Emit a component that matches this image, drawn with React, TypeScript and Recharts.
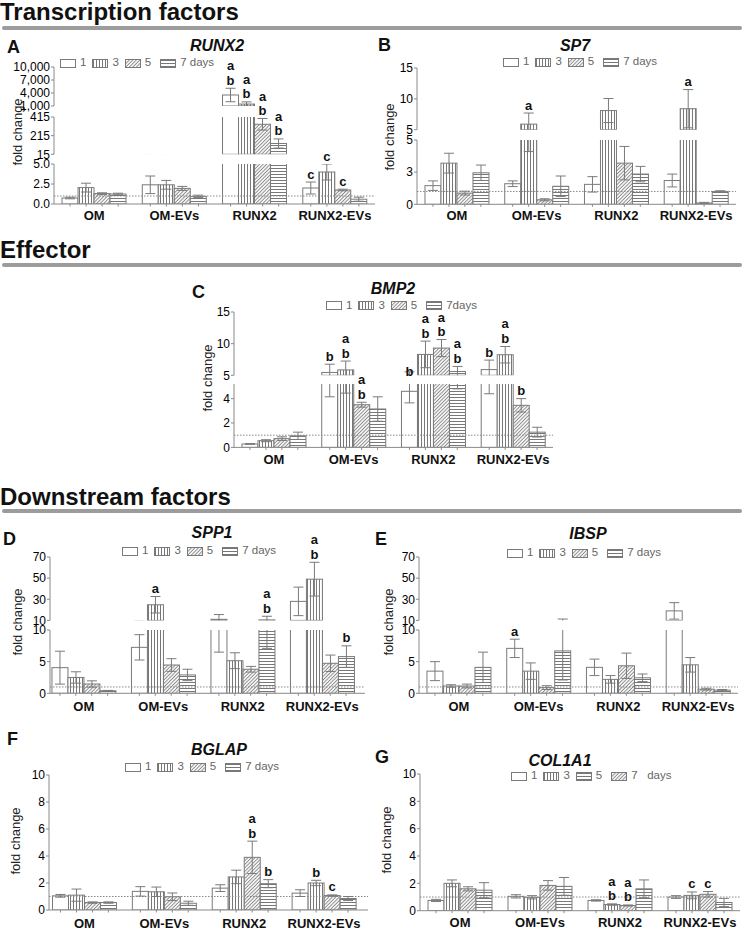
import React from 'react';
import { BarChart, Bar, XAxis, YAxis, ErrorBar, LabelList, ReferenceLine } from 'recharts';

const groups = ['OM', 'OM-EVs', 'RUNX2', 'RUNX2-EVs'];
const dayLabels = ['1', '3', '5', '7 days'];

// A  RUNX2
const runx2Day1 = [0.75, 2.4, 3540, 2.0];
const runx2Day3 = [2.05, 2.4, 1450, 4.0];
const runx2Day5 = [1.3, 1.95, 337, 1.75];
const runx2Day7 = [1.25, 0.95, 131, 0.6];
const runx2Err1 = [0.1, 1.1, 1550, 0.75];
const runx2Err3 = [0.55, 0.55, 500, 1.0];
const runx2Err5 = [0.1, 0.25, 62, 0.1];
const runx2Err7 = [0.1, 0.15, 49, 0.25];
const runx2Sig1 = ['', '', 'ab', 'c'];
const runx2Sig3 = ['', '', 'ab', 'c'];
const runx2Sig5 = ['', '', 'ab', 'c'];
const runx2Sig7 = ['', '', 'ab', ''];

// B  SP7
const sp7Day1 = [1.45, 1.6, 1.55, 1.85];
const sp7Day3 = [3.2, 5.9, 8.1, 8.4];
const sp7Day5 = [0.87, 0.35, 3.2, 0.1];
const sp7Day7 = [2.45, 1.4, 2.35, 1.0];
const sp7Err1 = [0.37, 0.22, 0.6, 0.5];
const sp7Err3 = [0.77, 1.8, 1.95, 3.1];
const sp7Err5 = [0.15, 0.08, 1.3, 0.05];
const sp7Err7 = [0.6, 0.8, 0.6, 0.05];
const sp7Sig1 = ['', '', '', ''];
const sp7Sig3 = ['', 'a', '', 'a'];
const sp7Sig5 = ['', '', '', ''];
const sp7Sig7 = ['', '', '', ''];

// C  BMP2
const bmp2Day1 = [0.28, 5.45, 4.6, 5.9];
const bmp2Day3 = [0.55, 5.85, 8.3, 8.25];
const bmp2Day5 = [0.72, 3.5, 9.3, 3.45];
const bmp2Day7 = [0.95, 3.15, 5.6, 1.25];
const bmp2Err1 = [0.03, 1.3, 0.95, 1.5];
const bmp2Err3 = [0.08, 1.4, 2.1, 1.3];
const bmp2Err5 = [0.15, 0.2, 1.35, 0.55];
const bmp2Err7 = [0.3, 1.0, 0.8, 0.4];
const bmp2Sig1 = ['', 'b', 'b', 'b'];
const bmp2Sig3 = ['', 'ab', 'ab', 'ab'];
const bmp2Sig5 = ['', 'ab', 'ab', 'b'];
const bmp2Sig7 = ['', '', 'ab', ''];

// D  SPP1
const spp1Day1 = [4.05, 7.26, 11, 28];
const spp1Day3 = [2.5, 24.8, 5.15, 49];
const spp1Day5 = [1.47, 4.47, 3.8, 4.74];
const spp1Day7 = [0.4, 2.9, 10.5, 5.8];
const spp1Err1 = [2.6, 2.0, 4.5, 13.5];
const spp1Err3 = [0.9, 7.8, 1.25, 16];
const spp1Err5 = [0.5, 1.0, 0.45, 1.3];
const spp1Err7 = [0.05, 0.9, 3.4, 1.7];
const spp1Sig1 = ['', '', '', ''];
const spp1Sig3 = ['', 'a', '', 'ab'];
const spp1Sig5 = ['', '', '', ''];
const spp1Sig7 = ['', '', 'ab', 'b'];

// E  IBSP
const ibspDay1 = [3.5, 7.1, 4.1, 19];
const ibspDay3 = [1.15, 3.5, 2.2, 4.5];
const ibspDay5 = [1.15, 0.9, 4.35, 0.65];
const ibspDay7 = [4.1, 6.7, 2.45, 0.5];
const ibspErr1 = [1.5, 1.45, 1.3, 7.8];
const ibspErr3 = [0.2, 1.3, 0.6, 1.15];
const ibspErr5 = [0.3, 0.3, 2.0, 0.15];
const ibspErr7 = [2.4, 4.6, 0.6, 0.1];
const ibspSig1 = ['', 'a', '', ''];
const ibspSig3 = ['', '', '', ''];
const ibspSig5 = ['', '', '', ''];
const ibspSig7 = ['', '', '', ''];

// F  BGLAP
const bglapDay1 = [1.05, 1.38, 1.62, 1.25];
const bglapDay3 = [1.1, 1.35, 2.45, 2.0];
const bglapDay5 = [0.55, 0.98, 3.9, 1.07];
const bglapDay7 = [0.55, 0.5, 1.95, 0.85];
const bglapErr1 = [0.1, 0.35, 0.25, 0.25];
const bglapErr3 = [0.45, 0.35, 0.5, 0.2];
const bglapErr5 = [0.05, 0.28, 1.2, 0.05];
const bglapErr7 = [0.05, 0.15, 0.3, 0.15];
const bglapSig1 = ['', '', '', ''];
const bglapSig3 = ['', '', '', 'b'];
const bglapSig5 = ['', '', 'ab', 'c'];
const bglapSig7 = ['', '', 'b', ''];

// G  COL1A1
const col1a1Day1 = [0.75, 1.05, 0.75, 1.0];
const col1a1Day3 = [2.0, 0.98, 0.45, 1.12];
const col1a1Day5 = [1.6, 1.85, 0.38, 1.2];
const col1a1Day7 = [1.5, 1.78, 1.6, 0.6];
const col1a1Err1 = [0.08, 0.12, 0.05, 0.1];
const col1a1Err3 = [0.25, 0.12, 0.05, 0.25];
const col1a1Err5 = [0.15, 0.35, 0.04, 0.2];
const col1a1Err7 = [0.55, 0.65, 0.65, 0.3];
const col1a1Sig1 = ['', '', '', ''];
const col1a1Sig3 = ['', '', 'ab', 'c'];
const col1a1Sig5 = ['', '', 'ab', 'c'];
const col1a1Sig7 = ['', '', '', ''];

const AXIS = '#8a8a8a';
const EDGE = '#7a7a7a';
const FONT = '"Liberation Sans", Arial, Helvetica, sans-serif';

const W = '#ffffff';
const PV = 'url(#pv)';
const PD = 'url(#pd)';
const PH = 'url(#ph)';

function buildRows(means: number[][], errs: number[][], sigs: string[][]) {
  return groups.map((g, i) => {
    const row: any = { group: g };
    means.forEach((m, k) => {
      row[`v${k}`] = m[i];
      row[`e${k}`] = errs[k][i];
      row[`s${k}`] = sigs[k][i];
    });
    return row;
  });
}

const comma = (v: number) => v.toLocaleString('en-US');
const oneDec = (v: number) => v.toFixed(1);
const rounded = (v: number) => String(Math.round(v));
const plain = (v: number) => String(v);

type Seg = { domain: [number, number]; ticks: number[]; fmt: (v: number) => string; y0: number; y1: number };

const panels: any[] = [
  {
    letter: 'A', letterPos: [7, 37.5], title: 'RUNX2', titlePos: [217, 38],
    legendPos: [60, 63], legendFills: [W, PV, PD, PH], legendLabels: dayLabels,
    ylab: [17, 132], chartLeft: 0, axisX: 54, plotRight: 375, pad: { left: 0, right: 0 }, labelDy: 15.5,
    fills: [W, PV, PD, PH],
    rows: buildRows([runx2Day1, runx2Day3, runx2Day5, runx2Day7], [runx2Err1, runx2Err3, runx2Err5, runx2Err7], [runx2Sig1, runx2Sig3, runx2Sig5, runx2Sig7]),
    segs: [
      { domain: [1000, 10000], ticks: [1000, 4000, 7000, 10000], fmt: comma, y0: 67, y1: 106 },
      { domain: [15, 415], ticks: [15, 215, 415], fmt: plain, y0: 116.7, y1: 154 },
      { domain: [0, 5], ticks: [0, 2.5, 5], fmt: oneDec, y0: 164.3, y1: 204.3 },
    ],
  },
  {
    letter: 'B', letterPos: [378, 36], title: 'SP7', titlePos: [575, 38],
    legendPos: [503, 62], legendFills: [W, PV, PD, PH], legendLabels: dayLabels,
    ylab: [388.5, 137], chartLeft: 370, axisX: 417, plotRight: 736, pad: { left: 0, right: 0 }, labelDy: 16,
    fills: [W, PV, PD, PH],
    rows: buildRows([sp7Day1, sp7Day3, sp7Day5, sp7Day7], [sp7Err1, sp7Err3, sp7Err5, sp7Err7], [sp7Sig1, sp7Sig3, sp7Sig5, sp7Sig7]),
    segs: [
      { domain: [5, 15], ticks: [5, 10, 15], fmt: plain, y0: 68.3, y1: 130 },
      { domain: [0, 5], ticks: [0, 2.5, 5], fmt: rounded, y0: 140, y1: 204.3 },
    ],
  },
  {
    letter: 'C', letterPos: [192, 282.5], title: 'BMP2', titlePos: [393, 281],
    legendPos: [326, 305.7], legendFills: [W, PV, PD, PH], legendLabels: ['1', '3', '5', '7days'],
    ylab: [207, 378], chartLeft: 180, axisX: 234, plotRight: 553, pad: { left: 0, right: 0 }, labelDy: 17,
    fills: [W, PV, PD, PH],
    rows: buildRows([bmp2Day1, bmp2Day3, bmp2Day5, bmp2Day7], [bmp2Err1, bmp2Err3, bmp2Err5, bmp2Err7], [bmp2Sig1, bmp2Sig3, bmp2Sig5, bmp2Sig7]),
    segs: [
      { domain: [5, 15], ticks: [5, 10, 15], fmt: plain, y0: 311.7, y1: 375 },
      { domain: [0, 5.2], ticks: [0, 2, 4], fmt: plain, y0: 384.3, y1: 447.7 },
    ],
  },
  {
    letter: 'D', letterPos: [3, 529.5], title: 'SPP1', titlePos: [212, 524.7],
    legendPos: [122, 551], legendFills: [W, PV, PD, PH], legendLabels: dayLabels,
    ylab: [17, 622], chartLeft: 0, axisX: 50, plotRight: 365, pad: { left: -6, right: 3 }, labelDy: 18,
    fills: [W, PV, PD, PH],
    rows: buildRows([spp1Day1, spp1Day3, spp1Day5, spp1Day7], [spp1Err1, spp1Err3, spp1Err5, spp1Err7], [spp1Sig1, spp1Sig3, spp1Sig5, spp1Sig7]),
    segs: [
      { domain: [10, 70], ticks: [10, 30, 50, 70], fmt: plain, y0: 557.3, y1: 620.7 },
      { domain: [0, 10], ticks: [0, 5, 10], fmt: plain, y0: 630, y1: 693.3 },
    ],
  },
  {
    letter: 'E', letterPos: [375, 529.5], title: 'IBSP', titlePos: [588, 525.7],
    legendPos: [507, 553], legendFills: [W, PV, PD, PH], legendLabels: dayLabels,
    ylab: [387.5, 622], chartLeft: 370, axisX: 419, plotRight: 738, pad: { left: 0, right: 0 }, labelDy: 18,
    fills: [W, PV, PD, PH],
    rows: buildRows([ibspDay1, ibspDay3, ibspDay5, ibspDay7], [ibspErr1, ibspErr3, ibspErr5, ibspErr7], [ibspSig1, ibspSig3, ibspSig5, ibspSig7]),
    segs: [
      { domain: [10, 70], ticks: [10, 30, 50, 70], fmt: plain, y0: 557.3, y1: 620.7 },
      { domain: [0, 10], ticks: [0, 5, 10], fmt: plain, y0: 630, y1: 693.3 },
    ],
  },
  {
    letter: 'F', letterPos: [7, 729.5], title: 'BGLAP', titlePos: [219, 742],
    legendPos: [125, 767], legendFills: [W, PV, PD, PH], legendLabels: dayLabels,
    ylab: [15, 841], chartLeft: 0, axisX: 49, plotRight: 368, pad: { left: -4.5, right: 4 }, labelDy: 17.5,
    fills: [W, PV, PD, PH],
    rows: buildRows([bglapDay1, bglapDay3, bglapDay5, bglapDay7], [bglapErr1, bglapErr3, bglapErr5, bglapErr7], [bglapSig1, bglapSig3, bglapSig5, bglapSig7]),
    segs: [
      { domain: [0, 10], ticks: [0, 2, 4, 6, 8, 10], fmt: plain, y0: 775, y1: 910 },
    ],
  },
  {
    letter: 'G', letterPos: [375, 747.5], title: 'COL1A1', titlePos: [560, 753],
    legendPos: [511, 776], legendFills: [W, PV, PH, PD], legendLabels: ['1', '3', '5', '7   days'],
    ylab: [386, 840], chartLeft: 370, axisX: 420, plotRight: 740, pad: { left: 0, right: 0 }, labelDy: 16.5,
    fills: [W, PV, PD, PH],
    rows: buildRows([col1a1Day1, col1a1Day3, col1a1Day5, col1a1Day7], [col1a1Err1, col1a1Err3, col1a1Err5, col1a1Err7], [col1a1Sig1, col1a1Sig3, col1a1Sig5, col1a1Sig7]),
    segs: [
      { domain: [0, 10], ticks: [0, 2, 4, 6, 8, 10], fmt: plain, y0: 774, y1: 910.7 },
    ],
  },
];

const segId = (cfg: any, si: number) => `seg${cfg.letter}${si}`;

const CatTick = (props: any) => {
  const { x, y, payload, labelDy, barW } = props;
  return (
    <g>
      {[-1.5, -0.5, 0.5, 1.5].map((o) => (
        <line key={o} x1={x + o * barW} x2={x + o * barW} y1={y} y2={y + 2.5} stroke={AXIS} strokeWidth={1} />
      ))}
      <text x={x} y={y + labelDy} textAnchor="middle" fontSize={13} fontWeight="bold" fill="#111" fontFamily={FONT}>
        {payload.value}
      </text>
    </g>
  );
};

const makeShape = (k: number, fill: string, isBottom: boolean, d0: number) => (p: any) => {
  const v = p.payload ? p.payload[`v${k}`] : undefined;
  if (!isBottom && !(v > d0)) return <g />;
  if (!(p.height > 0)) return <g />;
  return <rect x={p.x} y={p.y} width={p.width} height={p.height} fill={fill} stroke={EDGE} strokeWidth={1} />;
};

const makeLetters = (plotH: number, d0: number, d1: number, isBottom: boolean, isTop: boolean) => (props: any) => {
  const value = props.value;
  if (!value || typeof value !== 'string') return <g />;
  const [letters, errS, meanS] = value.split('|');
  const mean = Number(meanS);
  const err = Number(errS);
  if (!isBottom && !(mean > d0)) return <g />;
  if (!isTop && mean > d1) return <g />;
  const vb = props.viewBox && props.viewBox.width != null ? props.viewBox : props;
  const x = Number(vb.x);
  const y = Number(vb.y);
  const w = Number(vb.width);
  const top = y - (err * plotH) / (d1 - d0);
  const chars = letters.split('');
  return (
    <g>
      {chars.map((c, j) => (
        <text key={j} x={x + w / 2} y={top - 8 - (chars.length - 1 - j) * 14.5} textAnchor="middle" dominantBaseline="central"
          fontSize={13} fontWeight="bold" fill="#111" fontFamily={FONT}>
          {c}
        </text>
      ))}
    </g>
  );
};

function SegmentChart({ cfg, seg, si }: { cfg: any; seg: Seg; si: number }) {
  const isBottom = si === cfg.segs.length - 1;
  const isTop = si === 0;
  const plotH = seg.y1 - seg.y0;
  const xH = isBottom ? 34 : 0;
  const width = cfg.plotRight - cfg.chartLeft;
  const [d0, d1] = seg.domain;
  const barW = ((cfg.plotRight - cfg.axisX - cfg.pad.left - cfg.pad.right) / 4) * 0.8 / 4;
  return (
    <div className={segId(cfg, si)} style={{ position: 'absolute', left: cfg.chartLeft, top: seg.y0 }}>
      <BarChart width={width} height={plotH + xH} data={cfg.rows} margin={{ top: 0, right: 0, bottom: 0, left: 0 }}
        barCategoryGap="10%" barGap={0}>
        <XAxis dataKey="group" hide={!isBottom} height={xH} padding={cfg.pad} axisLine={{ stroke: AXIS }}
          tickLine={false} tickSize={0} tickMargin={0} interval={0}
          tick={(p: any) => <CatTick {...p} labelDy={cfg.labelDy} barW={barW} />} />
        <YAxis type="number" domain={seg.domain} ticks={seg.ticks} allowDataOverflow interval={0}
          width={cfg.axisX - cfg.chartLeft} tickFormatter={seg.fmt} tickSize={3} tickMargin={1}
          axisLine={{ stroke: AXIS }} tickLine={{ stroke: AXIS }}
          tick={{ fill: '#000', fontSize: 12, fontFamily: FONT }} />
        {d0 <= 1 && d1 >= 1 ? (
          <ReferenceLine y={1} stroke="#888" strokeDasharray="1.5 1.5" strokeWidth={1} />
        ) : null}
        {cfg.fills.map((fill: string, k: number) => (
          <Bar key={k} dataKey={`v${k}`} isAnimationActive={false} fill={fill} stroke={EDGE}
            shape={makeShape(k, fill, isBottom, d0)}>
            <ErrorBar dataKey={`e${k}`} width={5} stroke={EDGE} strokeWidth={1} direction="y" />
            <LabelList
              dataKey={(row: any) => (row[`s${k}`] ? `${row[`s${k}`]}|${row[`e${k}`]}|${row[`v${k}`]}` : '')}
              content={makeLetters(plotH, d0, d1, isBottom, isTop)} />
          </Bar>
        ))}
      </BarChart>
    </div>
  );
}

function LegendRow({ x, y, fills, labels }: any) {
  return (
    <div style={{ position: 'absolute', left: x, top: y - 7, height: 14, display: 'flex', alignItems: 'center',
      fontSize: 11.5, color: '#666', whiteSpace: 'pre', lineHeight: 1, fontFamily: FONT }}>
      {labels.map((l: string, i: number) => (
        <React.Fragment key={i}>
          <svg width={16} height={9} style={{ marginRight: 4, display: 'block' }}>
            <rect x={0.5} y={0.5} width={15} height={8} fill={fills[i]} stroke={EDGE} strokeWidth={1} />
          </svg>
          <span style={{ marginRight: i === 2 ? 9 : 6 }}>{l}</span>
        </React.Fragment>
      ))}
    </div>
  );
}

function Panel({ cfg }: { cfg: any }) {
  return (
    <>
      <div style={{ position: 'absolute', left: cfg.letterPos[0], top: cfg.letterPos[1], fontSize: 18, fontWeight: 'bold',
        lineHeight: 1, color: '#111' }}>{cfg.letter}</div>
      <div style={{ position: 'absolute', left: cfg.titlePos[0], top: cfg.titlePos[1], transform: 'translateX(-50%)',
        fontSize: 16, fontWeight: 'bold', fontStyle: 'italic', lineHeight: 1, color: '#111', whiteSpace: 'nowrap' }}>{cfg.title}</div>
      <LegendRow x={cfg.legendPos[0]} y={cfg.legendPos[1]} fills={cfg.legendFills} labels={cfg.legendLabels} />
      <div style={{ position: 'absolute', left: cfg.ylab[0], top: cfg.ylab[1], transform: 'translate(-50%,-50%) rotate(-90deg)',
        fontSize: 13, lineHeight: 1, color: '#222', whiteSpace: 'nowrap' }}>fold change</div>
      {cfg.segs.map((seg: Seg, si: number) => (
        <SegmentChart key={si} cfg={cfg} seg={seg} si={si} />
      ))}
    </>
  );
}

function Header({ text, top, lineTop }: { text: string; top: number; lineTop: number }) {
  return (
    <>
      <div style={{ position: 'absolute', left: 0, top, fontSize: 24, fontWeight: 'bold', lineHeight: 1.15, color: '#111',
        whiteSpace: 'nowrap' }}>{text}</div>
      <div style={{ position: 'absolute', left: 2, top: lineTop, width: 740, height: 4, background: '#9c9c9c', borderRadius: 2 }} />
    </>
  );
}

export default function App() {
  const clipDefs: any[] = [];
  const css: string[] = ['.recharts-surface{overflow:visible}'];
  panels.forEach((cfg) => {
    cfg.segs.forEach((seg: Seg, si: number) => {
      const id = segId(cfg, si);
      clipDefs.push(
        <clipPath key={id} id={`clip-${id}`} clipPathUnits="userSpaceOnUse">
          <rect x={cfg.axisX - cfg.chartLeft} y={0} width={cfg.plotRight - cfg.axisX} height={seg.y1 - seg.y0} />
        </clipPath>
      );
      css.push(`.${id} [class*="recharts-errorBar"]{clip-path:url(#clip-${id})}`);
    });
  });
  return (
    <div style={{ position: 'absolute', left: 0, top: 0, width: 744, height: 929, background: '#fff', fontFamily: FONT,
      overflow: 'hidden' }}>
      <style>{css.join('\n')}</style>
      <svg width={0} height={0} style={{ position: 'absolute' }}>
        <defs>
          <pattern id="pv" width="3" height="3" patternUnits="userSpaceOnUse">
            <rect width="3" height="3" fill="#fff" />
            <line x1="1.5" y1="0" x2="1.5" y2="3" stroke="#777" strokeWidth="1" />
          </pattern>
          <pattern id="ph" width="3" height="3" patternUnits="userSpaceOnUse">
            <rect width="3" height="3" fill="#fff" />
            <line x1="0" y1="1.5" x2="3" y2="1.5" stroke="#777" strokeWidth="1" />
          </pattern>
          <pattern id="pd" width="2.5" height="2.5" patternUnits="userSpaceOnUse" patternTransform="rotate(45)">
            <rect width="2.5" height="2.5" fill="#fff" />
            <line x1="1.25" y1="0" x2="1.25" y2="2.5" stroke="#8a8a8a" strokeWidth="1" />
          </pattern>
          {clipDefs}
        </defs>
      </svg>
      <Header text="Transcription factors" top={-2} lineTop={26} />
      <Header text="Effector" top={236} lineTop={263} />
      <Header text="Downstream factors" top={482.5} lineTop={509} />
      {panels.map((p) => (
        <Panel key={p.letter} cfg={p} />
      ))}
    </div>
  );
}
